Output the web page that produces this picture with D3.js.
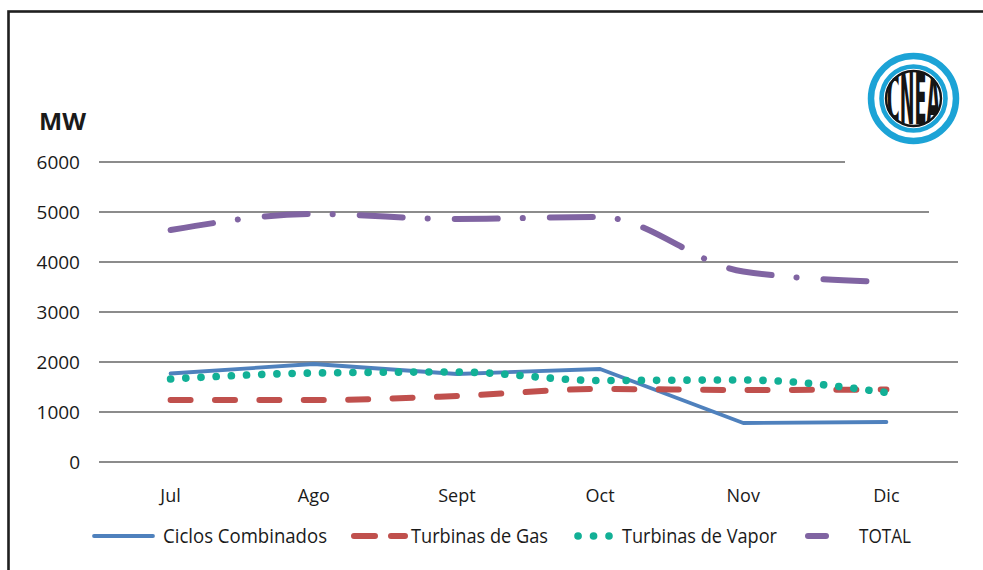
<!DOCTYPE html>
<html>
<head lang="es">
    <meta charset="UTF-8">
    <title>MW</title>
    <script src="https://cdn.jsdelivr.net/npm/d3@7"></script>
    <style>
        body{ margin:0; background:#fff; }
        text{ font-family:"Open Sans", sans-serif; fill:#1a1a1a; }
        .grid{ stroke:#8c8c8c; stroke-width:2px; }
        .serie{ fill:none; stroke-linecap:round; stroke-linejoin:round; }
    </style>
</head>
<body>
<div id="tu1"></div>
<script>
    var meses=['Jul','Ago','Sept','Oct','Nov','Dic'];
    var yTicks=[0,1000,2000,3000,4000,5000,6000];
    var ciclosCombinados=[1770,1960,1760,1860,780,800];
    var turbinasGas=[1240,1240,1320,1460,1440,1450];
    var turbinasVapor=[1660,1780,1800,1630,1640,1390];
    var total=[4640,4960,4860,4900,3810,3600];
    var nombres=['Ciclos Combinados','Turbinas de Gas','Turbinas de Vapor','TOTAL'];

    var series=[
        {name:nombres[0],values:ciclosCombinados,color:'#4f81bd',width:3.8,dash:null,curve:d3.curveLinear,
            lx:[94,153],ldash:null,tx:163,tw:164},
        {name:nombres[1],values:turbinasGas,color:'#c0504d',width:6,dash:'20,24.4',curve:d3.curveMonotoneX,
            lx:[354,405],ldash:'21,16,14,100',tx:411,tw:137},
        {name:nombres[2],values:turbinasVapor,color:'#12b096',width:7.6,dash:'0.1,15.1',curve:d3.curveMonotoneX,
            lx:[578,609],ldash:'0.1,15.4',tx:622,tw:155},
        {name:nombres[3],values:total,color:'#8064a2',width:6,dash:'43,25,0.1,27',curve:d3.curveMonotoneX,
            lx:[808,845],ldash:'18,19,0.1,100',tx:859,tw:52}
    ];

    var W=983,H=570;
    var svg=d3.select('#tu1').append('svg')
            .attr('width',W).attr('height',H);

    // marco
    svg.append('rect')
            .attr('x',8.5).attr('y',11.5)
            .attr('width',1100).attr('height',700)
            .attr('fill','none')
            .attr('stroke','#1f1f1f')
            .attr('stroke-width',2.6);

    var x=d3.scalePoint().domain(meses).range([99,958]).padding(0.5);
    var y=d3.scaleLinear().domain([0,6000]).range([462,162]);

    // grilla (las dos de arriba se acortan por el logo)
    function finGrilla(v){
        return v==6000?845:(v==5000?929:958);
    }
    svg.selectAll('line.grid')
            .data(yTicks)
            .enter()
            .append('line')
            .attr('class','grid')
            .attr('x1',99)
            .attr('x2',function(d){ return finGrilla(d); })
            .attr('y1',function(d){ return y(d); })
            .attr('y2',function(d){ return y(d); });

    svg.selectAll('text.ytick')
            .data(yTicks)
            .enter()
            .append('text')
            .attr('class','ytick')
            .attr('x',80)
            .attr('y',function(d){ return y(d); })
            .attr('dy','0.36em')
            .attr('text-anchor','end')
            .style('font-size','19px')
            .text(function(d){ return d; });

    svg.selectAll('text.xtick')
            .data(meses)
            .enter()
            .append('text')
            .attr('class','xtick')
            .attr('x',function(d){ return x(d); })
            .attr('y',502)
            .attr('text-anchor','middle')
            .style('font-size','18px')
            .text(function(d){ return d; });

    svg.append('text')
            .attr('x',39).attr('y',129.5)
            .attr('textLength',47).attr('lengthAdjust','spacingAndGlyphs')
            .style('font-size','22.5px')
            .style('font-weight','bold')
            .text('MW');

    // lineas
    series.forEach(function(s){
        var linea=d3.line()
                .x(function(d,i){ return x(meses[i]); })
                .y(function(d){ return y(d); })
                .curve(s.curve);
        svg.append('path')
                .datum(s.values)
                .attr('class','serie')
                .attr('d',linea)
                .attr('stroke',s.color)
                .attr('stroke-width',s.width)
                .attr('stroke-dasharray',s.dash);
    });

    // leyenda
    var ly=536;
    var gl=svg.append('g');
    series.forEach(function(s){
        gl.append('line')
                .attr('class','serie')
                .attr('x1',s.lx[0]).attr('x2',s.lx[1])
                .attr('y1',ly).attr('y2',ly)
                .attr('stroke',s.color)
                .attr('stroke-width',s.width)
                .attr('stroke-dasharray',s.ldash);
        gl.append('text')
                .attr('x',s.tx).attr('y',ly+7)
                .attr('textLength',s.tw).attr('lengthAdjust','spacingAndGlyphs')
                .style('font-size','19.5px')
                .text(s.name);
    });

    // logo CNEA (aproximado)
    var logo=svg.append('g').attr('transform','translate(913.5,98.5)');
    svg.append('defs').append('clipPath').attr('id','clipLogo')
            .append('circle').attr('r',28.5);
    logo.append('circle').attr('r',42.5)
            .attr('fill','none').attr('stroke','#1ca3d6').attr('stroke-width',6.5);
    logo.append('circle').attr('r',32)
            .attr('fill','none').attr('stroke','#1ca3d6').attr('stroke-width',4.6);
    logo.append('circle').attr('r',27.5)
            .attr('fill','none').attr('stroke','#151515').attr('stroke-width',2.4);
    logo.append('g').attr('clip-path','url(#clipLogo)')
            .append('text')
            .attr('text-anchor','middle')
            .attr('transform','scale(0.62,3.2)')
            .attr('y',8)
            .style('font-family','"DejaVu Sans"')
            .style('font-weight','bold')
            .style('font-size','22px')
            .style('fill','#151515')
            .attr('textLength',86).attr('lengthAdjust','spacingAndGlyphs')
            .text('CNEA');
</script>
</body>
</html>
